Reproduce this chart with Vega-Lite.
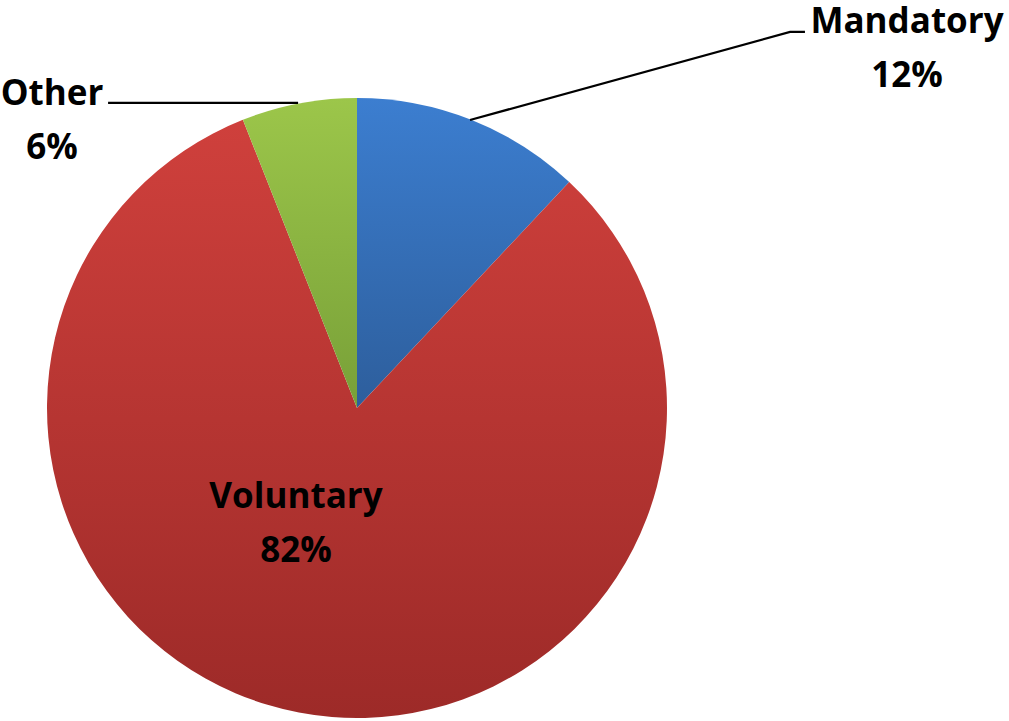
{
  "$schema": "https://vega.github.io/schema/vega-lite/v6.json",
  "width": 1009,
  "height": 721,
  "padding": 0,
  "autosize": "none",
  "background": "white",
  "config": {"view": {"stroke": null}},
  "datasets": {
    "slices": [
      {"cat": "Mandatory", "value": 12, "order": 1, "cx": 0, "cy": 0},
      {"cat": "Voluntary", "value": 82, "order": 2, "cx": 0, "cy": 0},
      {"cat": "Other", "value": 6, "order": 3, "cx": 0, "cy": 0}
    ],
    "leaders": [
      {"id": "Mandatory", "seq": 1, "x": 0.3645, "y": 0.929},
      {"id": "Mandatory", "seq": 2, "x": 1.397, "y": 1.213},
      {"id": "Mandatory", "seq": 3, "x": 1.445, "y": 1.213},
      {"id": "Other", "seq": 1, "x": -0.19, "y": 0.984},
      {"id": "Other", "seq": 2, "x": -0.803, "y": 0.984}
    ],
    "labels": [
      {"label": "Mandatory\n12%", "x": 1.7742, "y": 1.2097},
      {"label": "Other\n6%", "x": -0.9839, "y": 0.9774},
      {"label": "Voluntary\n82%", "x": -0.1968, "y": -0.3226}
    ]
  },
  "layer": [
    {
      "data": {"name": "slices"},
      "mark": {"type": "arc", "outerRadius": 310},
      "encoding": {
        "theta": {"field": "value", "type": "quantitative", "stack": true},
        "order": {"field": "order", "type": "quantitative"},
        "x": {"field": "cx", "type": "quantitative", "scale": {"domain": [-1.1516, 2.1032], "nice": false, "zero": false}, "axis": null},
        "y": {"field": "cy", "type": "quantitative", "scale": {"domain": [-1.0097, 1.3161], "nice": false, "zero": false}, "axis": null},
        "color": {
          "condition": [
            {"test": "datum.cat === 'Mandatory'", "value": {"gradient": "linear", "x1": 0, "y1": 0, "x2": 0, "y2": 1, "stops": [{"offset": 0, "color": "#3c7ed0"}, {"offset": 1, "color": "#2d5e9c"}]}},
            {"test": "datum.cat === 'Other'", "value": {"gradient": "linear", "x1": 0, "y1": 0, "x2": 0, "y2": 1, "stops": [{"offset": 0, "color": "#9cc64a"}, {"offset": 1, "color": "#78a038"}]}}
          ],
          "value": {"gradient": "linear", "x1": 0, "y1": 0, "x2": 0, "y2": 1, "stops": [{"offset": 0, "color": "#cf403c"}, {"offset": 1, "color": "#9d2a28"}]}
        }
      }
    },
    {
      "data": {"name": "leaders"},
      "mark": {"type": "line", "color": "black", "strokeWidth": 2.2},
      "encoding": {
        "x": {"field": "x", "type": "quantitative", "scale": {"domain": [-1.1516, 2.1032], "nice": false, "zero": false}, "axis": null},
        "y": {"field": "y", "type": "quantitative", "scale": {"domain": [-1.0097, 1.3161], "nice": false, "zero": false}, "axis": null},
        "detail": {"field": "id"},
        "order": {"field": "seq", "type": "quantitative"}
      }
    },
    {
      "data": {"name": "labels"},
      "mark": {"type": "text", "font": "Open Sans", "fontWeight": "bold", "fontSize": 35, "lineHeight": 54, "lineBreak": "\n", "align": "center", "baseline": "alphabetic", "color": "black"},
      "encoding": {
        "x": {"field": "x", "type": "quantitative", "scale": {"domain": [-1.1516, 2.1032], "nice": false, "zero": false}, "axis": null},
        "y": {"field": "y", "type": "quantitative", "scale": {"domain": [-1.0097, 1.3161], "nice": false, "zero": false}, "axis": null},
        "text": {"field": "label"}
      }
    }
  ]
}
